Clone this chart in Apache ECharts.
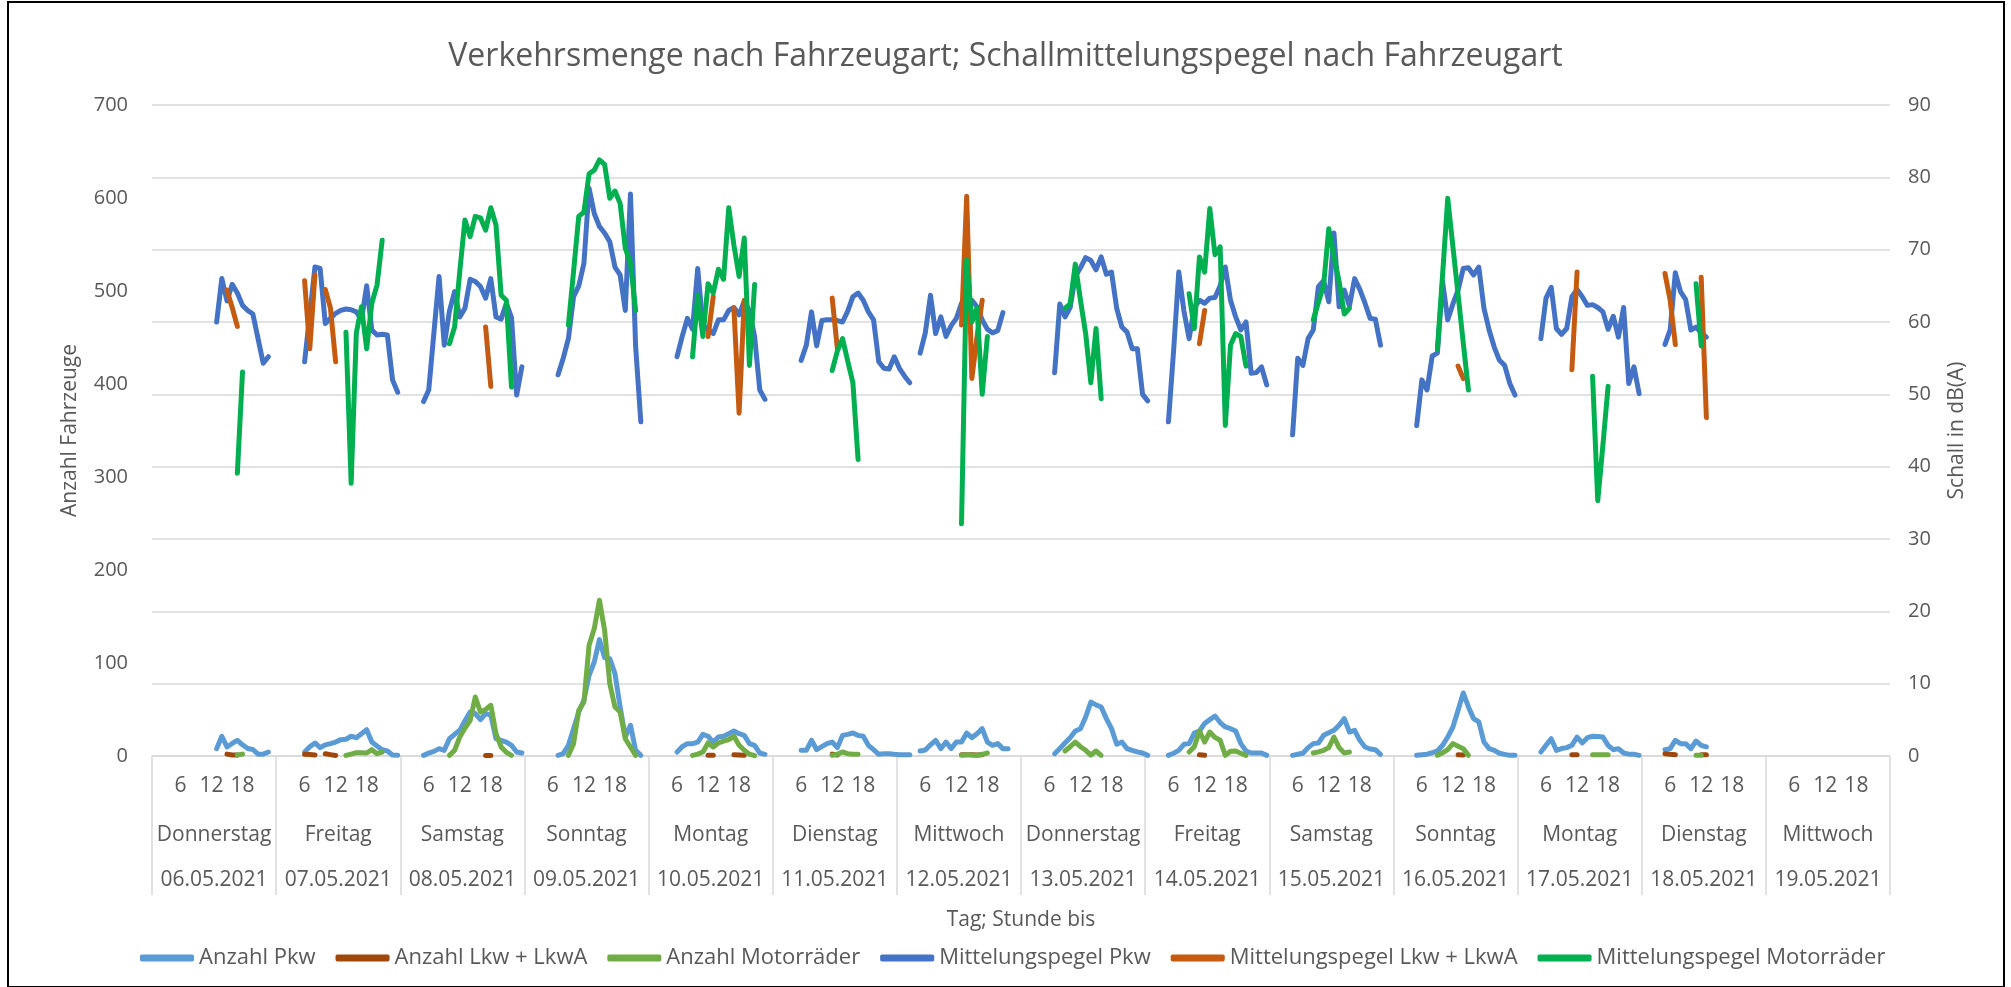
<!DOCTYPE html>
<html>
<head>
<meta charset="utf-8">
<script src="https://cdn.jsdelivr.net/npm/echarts@6/dist/echarts.min.js"></script>
<style>
  html, body { margin: 0; padding: 0; background: #fff; }
  #main { position: absolute; left: 0; top: 0; width: 2011px; height: 987px; }
  #frame { position: absolute; left: 7px; top: 1px; width: 1994px; height: 983px;
           border: 2px solid #000; pointer-events: none; }
</style>
</head>
<body>
<div id="main"></div>
<div id="frame"></div>
<script>
// 14 Tage, je 24 Stundenwerte (Stunde bis 1..24)
var tage = ['Donnerstag', 'Freitag', 'Samstag', 'Sonntag', 'Montag', 'Dienstag', 'Mittwoch',
            'Donnerstag', 'Freitag', 'Samstag', 'Sonntag', 'Montag', 'Dienstag', 'Mittwoch'];
var daten = ['06.05.2021', '07.05.2021', '08.05.2021', '09.05.2021', '10.05.2021', '11.05.2021', '12.05.2021',
             '13.05.2021', '14.05.2021', '15.05.2021', '16.05.2021', '17.05.2021', '18.05.2021', '19.05.2021'];
var stundenLabels = ['6', '12', '18'];

// Messreihen als [Startindex (Stunde seit 06.05. 0 Uhr), Werte...]; Lücken = keine Messung
var anzahlPkw = [
  [12, [7.9, 21.2, 9.7, 13.5, 16.9, 12, 8, 7, 2, 2, 4.3]],
  [29, [4.3, 10, 14, 9, 12, 13.3, 15, 17.6, 18, 21.2, 19.7, 24, 28.3, 15, 10.8, 6.8, 5.4, 1, 0.7]],
  [52, [0.7, 3.2, 5, 7.9, 6.1, 18.6, 23.3, 27.6, 38, 47.3, 45.5, 39.1, 45.5, 44, 18.6, 16.9, 15, 11.5, 4.3, 3.2]],
  [78, [0.7, 2.5, 11.5, 29.4, 47.3, 59.9, 86.8, 101.1, 125.2, 105.8, 104.7, 88.6, 52.7, 20.4, 33, 6.1, 0.7]],
  [101, [4.3, 10, 13.3, 13.3, 15, 23.3, 21.2, 15, 20.4, 21.2, 24, 26.9, 24, 22.2, 13.3, 11.5, 3.2, 1.8]],
  [125, [6.1, 6.1, 16.9, 6.8, 10, 13.3, 15, 9, 22.2, 23.3, 24.7, 22.2, 21.2, 11.5, 6.8, 1.8, 2.5, 2.5, 1.8, 1.4, 1.4, 1.4]],
  [148, [5.4, 6.5, 12, 16.9, 7.9, 15, 7.9, 15, 15, 24.7, 19.7, 24, 29.4, 15, 11.5, 13.3, 7.9, 7.9]],
  [174, [2.5, 8, 14, 19.7, 26.9, 29.4, 41.9, 58, 55, 52.7, 40.2, 29.4, 12.6, 15, 7.9, 6.1, 4.5, 3.2, 0.7]],
  [196, [0.7, 3, 6.1, 12.6, 13.3, 24.7, 26.9, 35, 39.1, 43, 36, 31.2, 29.4, 26.9, 13.3, 5.4, 3.2, 3.2, 3.2, 0.7]],
  [220, [0.7, 1.8, 3, 9, 13.3, 14, 22.2, 25, 27.6, 33, 40.2, 25.8, 27.6, 16.9, 9.7, 7.5, 6.8, 1.8]],
  [244, [0.7, 1.4, 2, 3.5, 5.4, 11.5, 20.4, 31.2, 49.1, 67.8, 52.7, 40.2, 36.6, 15, 7.9, 6.1, 3, 1.8, 0.7, 0.7]],
  [268, [4.3, 11.5, 18.6, 6.1, 8, 9, 11.5, 20.4, 14, 19.7, 21.2, 21, 20.4, 11.5, 6.8, 7.9, 3.2, 2, 1.8, 0.7]],
  [292, [6.8, 7.9, 16.9, 13.3, 13.3, 7.9, 16.1, 11.5, 9.7]]
];
var anzahlLkw = [
  [14, [2, 1, 1]],
  [29, [2, 1.5, 1]], [33, [2.5, 1.5, 0.5]],
  [64, [0.5, 0.5]],
  [107, [0.7, 0.7]], [112, [1.4, 1, 0.7]],
  [131, [2, 1]],
  [156, [1.4, 1.4, 1.4, 1, 1.4]],
  [202, [1.4, 0.7]],
  [252, [1.4, 1]],
  [274, [1.4, 1.4]],
  [292, [2.5, 1.8, 1.4]], [299, [1.4, 1.4]]
];
var anzahlMot = [
  [16, [1, 2]],
  [37, [0.7, 2, 3.6, 3.6, 3.2, 6.8, 2.5, 4.3]],
  [57, [0.7, 6.1, 20.4, 30, 38, 63.5, 47.3, 50, 54.5, 24, 9.7, 4, 0.7]],
  [80, [0.7, 13.3, 49, 58, 119, 137, 167.5, 135.2, 77.8, 52.7, 47.3, 18.6, 9.7, 0.7]],
  [104, [0.7, 2, 4.3, 14, 9.7, 14, 16, 17.6, 21.2, 11.5, 6.1, 2, 0.3]],
  [131, [0.7, 1.8, 4.3, 2.5, 2, 1.8]],
  [156, [0.7, 1.5, 1, 0.7, 1.8, 3.2]],
  [176, [5.4, 10, 15, 10, 6.1, 1, 5.4, 0.7]],
  [200, [4.3, 10, 26.9, 15, 25.8, 20, 16.9, 0.7, 5, 5.4, 3, 0.7]],
  [224, [3.2, 4.5, 6.1, 9, 20.4, 9, 3.2, 4.3]],
  [248, [0.7, 3.5, 6.8, 13.3, 10.5, 7.9, 0.7]],
  [278, [1.4, 1.4, 1.4, 1.4]],
  [298, [0.7, 0.7]]
];
var pegelPkw = [
  [12, [60, 66, 62.9, 65.2, 64, 62.3, 61.6, 61.1, 57.7, 54.3, 55.2]],
  [29, [54.5, 61, 67.6, 67.4, 59.8, 60.5, 61.2, 61.6, 61.8, 61.7, 61.4, 60.3, 65, 58.9, 58.2, 58.3, 58.2, 52, 50.3]],
  [52, [49, 50.6, 58.5, 66.3, 56.8, 61.5, 64.2, 60.7, 61.9, 65.9, 65.6, 64.9, 63.3, 66, 60.7, 60.4, 62.6, 60.6, 49.9, 53.8]],
  [78, [52.7, 55, 57.7, 63.5, 65, 68.1, 78.5, 75, 73.2, 72.3, 71.1, 67.6, 66.5, 61.6, 77.7, 56.6, 46.2]],
  [101, [55.2, 58, 60.5, 59, 67.4, 59.5, 59, 58.4, 60.3, 60.3, 61.6, 62, 61, 62.9, 61.5, 58, 50.6, 49.3]],
  [125, [54.7, 56.8, 61.4, 56.7, 60.2, 60.3, 60.3, 60.2, 60, 61.5, 63.5, 64, 63, 61.4, 60.3, 54.5, 53.6, 53.5, 55.2, 53.6, 52.5, 51.6]],
  [148, [55.7, 58.5, 63.7, 58.4, 60.7, 58, 59.5, 60.5, 62.6, 60.5, 63, 62.1, 60.3, 59, 58.5, 58.8, 61.3]],
  [174, [53, 62.5, 60.7, 62, 66.3, 67.5, 68.9, 68.5, 67.2, 69, 66.6, 66.9, 61.9, 59.3, 58.6, 56.3, 56.3, 50, 49.1]],
  [196, [46.2, 56, 66.9, 61.5, 57.7, 62, 63, 62.6, 63.3, 63.4, 65, 67.6, 63, 60.7, 58.9, 60, 52.9, 53, 53.8, 51.3]],
  [220, [44.4, 55, 54, 57.7, 58.9, 64.9, 65.7, 62.8, 72.3, 62.1, 64.4, 62.2, 66, 64.5, 62.6, 60.5, 60.4, 56.8]],
  [244, [45.7, 52, 50.6, 55.3, 55.7, 65.6, 60.3, 62.5, 64.4, 67.4, 67.5, 66.5, 67.6, 61.9, 58.9, 56.5, 54.7, 54, 51.5, 49.9]],
  [268, [57.7, 63.3, 64.8, 59.1, 58.3, 59.1, 63.5, 64.5, 63.5, 62.3, 62.4, 62, 61.4, 59, 60.8, 57.9, 62, 51.5, 53.8, 50.1]],
  [292, [56.9, 58.9, 66.8, 64.2, 63.1, 58.9, 59.3, 58.5, 57.9]]
];
var pegelLkw = [
  [14, [64.4, 62, 59.4]],
  [29, [65.7, 56.3, 66.5]], [33, [64.5, 61.9, 54.5]],
  [64, [59.3, 51.1]],
  [107, [58, 63.5]], [112, [61.9, 47.4, 63]],
  [131, [63.3, 56.3]],
  [156, [59.6, 77.4, 52.2, 58, 63]],
  [202, [57, 61.6]],
  [252, [53.9, 52.2]],
  [274, [53.4, 66.9]],
  [292, [66.7, 63, 56.9]], [299, [66.2, 46.8]]
];
var pegelMot = [
  [16, [39.1, 53.1]],
  [37, [58.6, 37.7, 58.5, 62.1, 56.3, 62.6, 65.1, 71.3]],
  [57, [57, 59.3, 67, 74.1, 71.8, 74.6, 74.4, 72.7, 75.8, 73.4, 63.7, 63, 51]],
  [80, [59.6, 67, 74.6, 75.2, 80.5, 81, 82.4, 81.8, 77.1, 78.1, 76.4, 70.2, 68.1, 61.6]],
  [104, [55.2, 63.7, 58, 65.3, 64, 67.3, 65.9, 75.8, 70.6, 66.3, 71.6, 54, 65.2]],
  [131, [53.3, 56, 57.7, 54.6, 51.6, 41]],
  [156, [32.1, 68.6, 60, 62, 50, 58]],
  [176, [61.9, 62.5, 68, 63, 58.4, 51.6, 59.1, 49.4]],
  [200, [63.9, 59.1, 69, 66.9, 75.7, 69.3, 70.4, 45.7, 56.8, 58.4, 58, 53.9]],
  [224, [60.3, 62.7, 65.1, 72.9, 69, 65.6, 61.1, 61.9]],
  [248, [56.2, 66.5, 77.1, 70.4, 63.8, 57.1, 50.6]],
  [278, [52.5, 35.3, 43, 51.1]],
  [298, [65.3, 56.7]]
];

var STUNDEN = tage.length * 24;
var kategorien = [];
for (var d = 0; d < tage.length; d++) {
  for (var h = 1; h <= 24; h++) kategorien.push(String(h));
}

function reihe(runs) {
  var arr = new Array(STUNDEN).fill(null);
  runs.forEach(function (r) {
    r[1].forEach(function (v, k) { arr[r[0] + k] = v; });
  });
  return arr;
}

var grau = '#595959';
var gitter = '#d9d9d9';

function linie(name, data, color, yIdx) {
  return {
    name: name, type: 'line', data: reihe(data), yAxisIndex: yIdx, xAxisIndex: 0,
    symbol: 'none', showSymbol: false, connectNulls: false, animation: false,
    lineStyle: { color: color, width: 5, cap: 'round', join: 'round' },
    itemStyle: { color: color }
  };
}

var chart = echarts.init(document.getElementById('main'));
var option = {
  backgroundColor: '#fff',
  textStyle: { fontFamily: 'Open Sans', color: grau },
  title: {
    text: 'Verkehrsmenge nach Fahrzeugart; Schallmittelungspegel nach Fahrzeugart',
    left: 'center', top: 36,
    textStyle: { fontFamily: 'Open Sans', fontSize: 32, fontWeight: 'normal', color: grau }
  },
  legend: {
    left: 140, top: 947, padding: 0,
    icon: 'roundRect', itemWidth: 54, itemHeight: 7, itemGap: 20,
    textStyle: { fontSize: 22, color: grau }
  },
  grid: { left: 152, right: 121, top: 105, bottom: 231, containLabel: false },
  xAxis: [
    {
      type: 'category', data: kategorien, position: 'bottom', boundaryGap: true,
      axisLine: { lineStyle: { color: gitter, width: 1.5 } },
      axisTick: { show: false },
      axisLabel: {
        fontSize: 21, color: grau, margin: 20,
        interval: function (i, v) { return stundenLabels.indexOf(v) >= 0; }
      }
    },
    {
      type: 'category', data: tage, position: 'bottom', boundaryGap: true,
      axisLine: { show: false },
      axisTick: { show: true, interval: 0, length: 139, lineStyle: { color: gitter, width: 1.5 } },
      axisLabel: { interval: 0, fontSize: 21, color: grau, margin: 69 }
    },
    {
      type: 'category', data: daten, position: 'bottom', boundaryGap: true,
      axisLine: { show: false }, axisTick: { show: false },
      axisLabel: { interval: 0, fontSize: 21, color: grau, margin: 114 },
      name: 'Tag; Stunde bis', nameLocation: 'middle', nameGap: 154,
      nameTextStyle: { fontSize: 21, color: grau }
    }
  ],
  yAxis: [
    {
      type: 'value', min: 0, max: 700, interval: 100, position: 'left',
      splitLine: { show: false }, axisLine: { show: false }, axisTick: { show: false },
      axisLabel: { fontSize: 20, color: grau, margin: 24 },
      name: 'Anzahl Fahrzeuge', nameLocation: 'middle', nameGap: 71, nameRotate: 90,
      nameTextStyle: { fontSize: 21, color: grau }
    },
    {
      type: 'value', min: 0, max: 90, interval: 10, position: 'right',
      splitLine: { show: true, lineStyle: { color: gitter, width: 1.5 } },
      axisLine: { show: false }, axisTick: { show: false },
      axisLabel: { fontSize: 20, color: grau, margin: 18 },
      name: 'Schall in dB(A)', nameLocation: 'middle', nameGap: 57, nameRotate: 90,
      nameTextStyle: { fontSize: 21, color: grau }
    }
  ],
  series: [
    linie('Anzahl Pkw', anzahlPkw, '#5b9bd5', 0),
    linie('Anzahl Lkw + LkwA', anzahlLkw, '#9e480e', 0),
    linie('Anzahl Motorräder', anzahlMot, '#70ad47', 0),
    linie('Mittelungspegel Pkw', pegelPkw, '#4472c4', 1),
    linie('Mittelungspegel Lkw + LkwA', pegelLkw, '#c55a11', 1),
    linie('Mittelungspegel Motorräder', pegelMot, '#00b050', 1)
  ]
};
chart.setOption(option);
</script>
</body>
</html>
